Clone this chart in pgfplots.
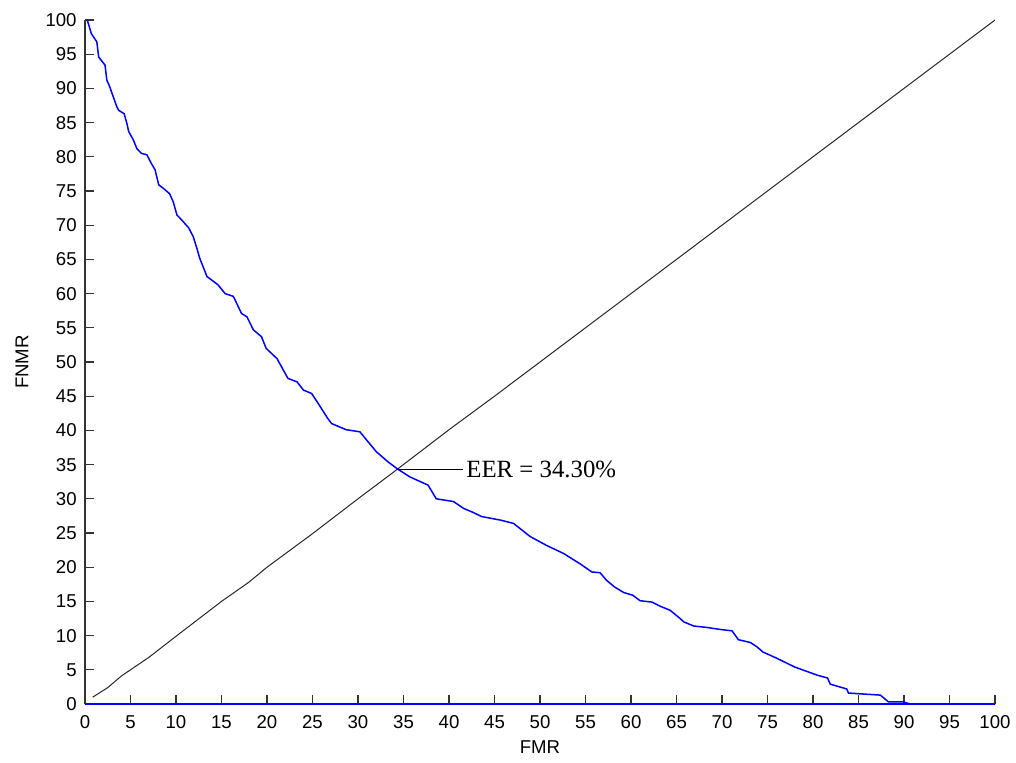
\documentclass[border=0pt]{standalone}
\usepackage{pgfplots}
\pgfplotsset{compat=1.18}
\usepackage{fontspec}
\setmainfont{Liberation Sans}
\newfontfamily\eerfont{Liberation Serif}
\begin{document}
\begin{tikzpicture}
\path[use as bounding box] (-42.5pt,-29pt) rectangle (465.5pt,352pt);
\begin{axis}[
  scale only axis,
  width=455pt, height=342pt,
  xmin=0, xmax=100, ymin=0, ymax=100,
  xtick={0,5,...,100}, ytick={0,5,...,100},
  axis x line*=bottom, axis y line*=left,
  axis line style={black!80, line width=0.6pt},
  tick align=inside,
  major tick length=4.5pt,
  tick style={black!80, line width=0.6pt},
  /pgf/number format/assume math mode=true,
  ticklabel style={font=\fontsize{9.3}{11}\selectfont, inner sep=0pt},
  yticklabel style={anchor=east, xshift=-4pt},
  xticklabel style={anchor=north, yshift=-5.5pt},
  xlabel={FMR}, ylabel={FNMR},
  label style={font=\fontsize{9.3}{11}\selectfont},
  xlabel style={at={(axis description cs:0.5,-0.0629)}, anchor=center},
  ylabel style={at={(axis description cs:-0.0692,0.5)}, anchor=center},
  clip=false,
]
\addplot[black!85, line width=0.5pt] coordinates {
(0.85,1.0) (2.5,2.4) (4,4.1) (5,5.0) (7,6.8) (10,9.9) (15,15.0) (18,17.8) (20,20.0) (25,24.9) (30,30.0) (34.3,34.3) (40,40.1) (45,45.0) (50,50.0) (55,55.0) (60,60.0) (65,65.0) (70,70.0) (75,75.0) (80,80.0) (85,85.0) (90,90.0) (95,95.0) (100,100)
};
\addplot[blue, line width=0.75pt] coordinates {(0,0) (100,0)};
\addplot[blue, line width=0.75pt] coordinates {
(0.25,100) (0.7,98) (1.3,96.8) (1.5,94.6) (2.2,93.4) (2.4,91.2) (2.7,90.3) (3.1,88.8) (3.5,87.3) (3.7,86.8) (4.3,86.3) (4.6,84.9) (4.8,83.7) (5.3,82.5) (5.7,81.2) (6.2,80.5) (6.8,80.3) (7.3,79) (7.7,78.1) (8.1,75.9) (8.6,75.4) (9.3,74.6) (9.7,73.4) (10.1,71.5) (10.6,70.8) (11.4,69.6) (11.9,68.3) (12.3,66.6) (12.6,65.2) (13.4,62.5) (14.6,61.3) (15.4,60) (16.3,59.6) (17.2,57.1) (17.8,56.6) (18.5,54.7) (19.4,53.7) (19.9,52) (21.1,50.5) (22.3,47.6) (23.3,47.1) (24,45.9) (24.9,45.4) (25.5,44.2) (26.7,41.7) (27.1,41) (28.7,40.1) (30.2,39.8) (32,36.9) (33.3,35.4) (34.3,34.4) (35.7,33.2) (37.7,32) (38.6,30) (40.5,29.6) (41.6,28.6) (42.5,28.1) (43.6,27.4) (45.6,26.9) (47.1,26.4) (48.9,24.5) (50.7,23.2) (52.6,22) (54.4,20.5) (55.7,19.3) (56.6,19.2) (57.3,18.1) (58.2,17.1) (59.2,16.3) (60.2,15.9) (61,15.1) (62.3,14.9) (63.2,14.3) (64.3,13.7) (65.4,12.5) (65.8,12) (66.9,11.4) (68.3,11.2) (69.8,10.9) (71.1,10.7) (71.8,9.4) (73.1,9) (73.8,8.4) (74.5,7.6) (76,6.7) (78,5.4) (80.5,4.2) (81.6,3.8) (81.9,2.9) (83.7,2.2) (83.9,1.6) (87.4,1.3) (88.3,0.3) (89.9,0.3) (90.7,0) (100,0)
};
\draw[black, line width=0.6pt] (axis cs:34.3,34.3) -- (axis cs:41.5,34.3);
\node[anchor=west, inner sep=0pt, font=\eerfont\fontsize{12.4}{14}\selectfont] at (axis cs:41.87,34.3) {EER = 34.30\%};
\end{axis}
\end{tikzpicture}
\end{document}
